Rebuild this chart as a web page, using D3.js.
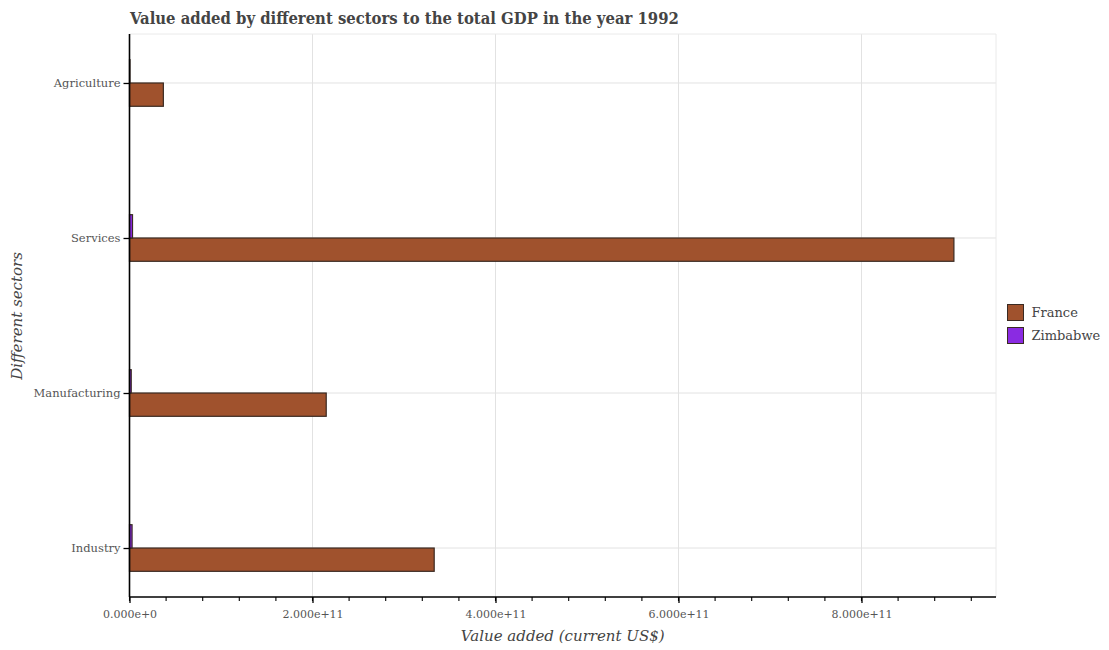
<!DOCTYPE html>
<html><head><meta charset="utf-8">
<script src="https://cdn.jsdelivr.net/npm/d3@7"></script>
<style>body{margin:0;background:#fff;} svg{display:block;}</style>
</head><body>
<svg id="c" width="1109" height="650"></svg>
<script>
const categories = ["Agriculture", "Services", "Manufacturing", "Industry"];
const seriesNames = ["France", "Zimbabwe"];
const franceValues = [3.7e10, 9.01e11, 2.15e11, 3.33e11];
const zimbabweValues = [5.5e8, 3.3e9, 1.9e9, 2.8e9];
const xTickValues = [0, 2e11, 4e11, 6e11, 8e11];
const colors = ["#a0522d", "#8a2be2"];

(function () {
const svg = d3.select("#c");
const pL = 129.5, pR = 996, pT = 34, pB = 597;
const x = d3.scaleLinear().domain([0, 9.47e11]).range([pL, pR]);
const y = d3.scalePoint().domain(categories).range([pT, pB]).padding(0.316);
const barH = 23.3;

// gridlines
const g = svg.append("g");
g.selectAll("line.vg").data(xTickValues).enter().append("line")
  .attr("x1", d => x(d)).attr("x2", d => x(d)).attr("y1", pT).attr("y2", pB)
  .attr("stroke", "#e2e2e2").attr("stroke-width", 1);
g.selectAll("line.hg").data(categories).enter().append("line")
  .attr("x1", pL).attr("x2", pR).attr("y1", d => y(d)).attr("y2", d => y(d))
  .attr("stroke", "#e2e2e2").attr("stroke-width", 1);
g.append("line").attr("x1", pL).attr("x2", pR).attr("y1", pT).attr("y2", pT)
  .attr("stroke", "#eaeaea");
g.append("line").attr("x1", pR).attr("x2", pR).attr("y1", pT).attr("y2", pB)
  .attr("stroke", "#eaeaea");

// bars
const series = [franceValues, zimbabweValues];
series.forEach((vals, si) => {
  svg.append("g").selectAll("rect").data(categories).enter().append("rect")
    .attr("x", x(0))
    .attr("y", d => si === 0 ? y(d) : y(d) - barH)
    .attr("width", (d, i) => x(vals[i]) - x(0))
    .attr("height", barH)
    .attr("fill", colors[si])
    .attr("stroke", "#3a2a22").attr("stroke-width", 1.2);
});

// x axis
const minor = d3.range(0, 9.21e11, 4e10);
const xa = svg.append("g").attr("transform", `translate(0,${pB})`);
xa.call(d3.axisBottom(x).tickValues(xTickValues).tickFormat(d3.format(".3e")).tickSizeOuter(0).tickSize(6));
xa.selectAll(".tick line").attr("stroke", "#000").attr("stroke-width", 1.3);
xa.append("g").selectAll("line").data(minor).enter().append("line")
  .attr("x1", d => x(d)).attr("x2", d => x(d)).attr("y1", 0).attr("y2", 4)
  .attr("stroke", "#000").attr("stroke-width", 1.1);
xa.select(".domain").attr("stroke", "#000").attr("stroke-width", 1.6).attr("d", `M${pL},0H${pR}`);
xa.selectAll("text").attr("font-family", "DejaVu Serif").attr("font-size", 11).attr("fill", "#555").attr("dy", "1.05em");

// y axis
const ya = svg.append("g").attr("transform", `translate(${pL},0)`);
ya.call(d3.axisLeft(y).tickSize(6).tickSizeOuter(0));
ya.selectAll(".tick line").attr("stroke", "#000").attr("stroke-width", 1.3);
ya.select(".domain").attr("d", `M0,${pT}V${pB}`).attr("stroke", "#000").attr("stroke-width", 1.6);
ya.selectAll("text").attr("font-family", "DejaVu Serif").attr("font-size", 11.5).attr("fill", "#555");

// title
svg.append("text").attr("x", 130).attr("y", 24)
  .attr("font-family", "DejaVu Serif Condensed, DejaVu Serif").attr("font-stretch", "condensed")
  .attr("font-weight", "bold").attr("font-size", 16.5).attr("fill", "#444")
  .text("Value added by different sectors to the total GDP in the year 1992");

// axis titles
svg.append("text").attr("x", (pL + pR) / 2).attr("y", 641).attr("text-anchor", "middle")
  .attr("font-family", "DejaVu Serif").attr("font-style", "italic").attr("font-size", 15).attr("fill", "#444")
  .text("Value added (current US$)");
svg.append("text").attr("transform", "translate(22,316) rotate(-90)").attr("text-anchor", "middle")
  .attr("font-family", "DejaVu Serif").attr("font-style", "italic").attr("font-size", 15).attr("fill", "#444")
  .text("Different sectors");

// legend
const lg = svg.append("g").selectAll("g").data(seriesNames).enter().append("g")
  .attr("transform", (d, i) => `translate(1007.5,${304.5 + i * 23})`);
lg.append("rect").attr("width", 16).attr("height", 16).attr("fill", (d, i) => colors[i])
  .attr("stroke", "#3a2a22").attr("stroke-width", 1);
lg.append("text").attr("x", 24).attr("y", 8).attr("dy", "0.35em")
  .attr("font-family", "DejaVu Serif").attr("font-size", 13).attr("fill", "#444").text(d => d);
})();
</script>
</body></html>
